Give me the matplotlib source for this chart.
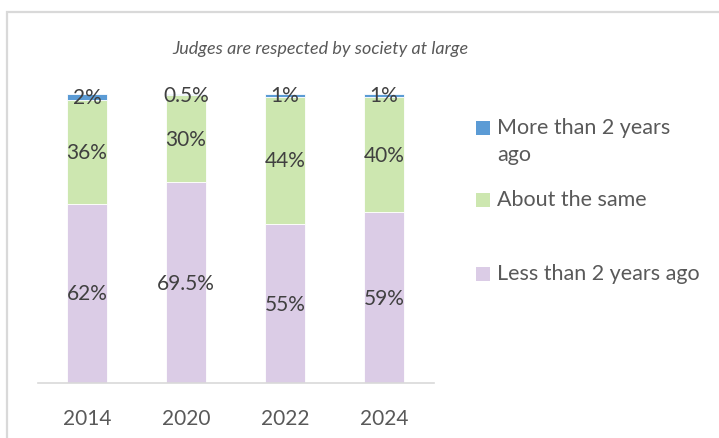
import matplotlib.pyplot as plt
import numpy as np
from matplotlib.patches import Rectangle

plt.rcParams["font.family"] = ["Lato", "DejaVu Sans"]

years = ["2014", "2020", "2022", "2024"]
less_than_2 = [62, 69.5, 55, 59]
about_same = [36, 30, 44, 40]
more_than_2 = [2, 0.5, 1, 1]

series_names = ["Less than 2 years ago", "About the same", "More than 2 years\nago"]
series_colors = ["#DBCCE6", "#CDE7B0", "#5B9BD5"]

W, H = 719, 439
fig = plt.figure(figsize=(W / 100, H / 100), dpi=100)

# outer chart frame (runs off the right and bottom edges)
fig.add_artist(Rectangle((7 / W, -0.1), 1.2, (H - 13) / H + 0.1,
                         transform=fig.transFigure, fill=False,
                         edgecolor="#D9D9D9", linewidth=1.6))

ax = fig.add_axes([37.5 / W, (H - 384) / H, 396 / W, 289 / H])
x = np.arange(len(years))
width = 0.404

bottom = np.zeros(len(years))
for vals, color in zip([less_than_2, about_same, more_than_2], series_colors):
    vals = np.array(vals, dtype=float)
    ax.bar(x, vals, width, bottom=bottom, color=color, edgecolor="white", linewidth=0.6)
    for xi, b, v in zip(x, bottom, vals):
        txt = f"{v:g}%"
        ax.text(xi, b + v / 2, txt, ha="center", va="center",
                fontsize=15, color="#404040")
    bottom += vals

ax.set_xlim(-0.5, 3.5)
ax.set_ylim(0, 100)
ax.set_yticks([])
for side in ["left", "right", "top"]:
    ax.spines[side].set_visible(False)
ax.spines["bottom"].set_color("#D9D9D9")
ax.spines["bottom"].set_linewidth(1.2)
ax.set_xticks(x)
ax.set_xticklabels(years, fontsize=15, color="#595959")
ax.tick_params(axis="x", length=0, pad=18)

fig.text(320 / W, 1 - 49 / H, "Judges are respected by society at large",
         ha="center", va="center", fontsize=13, style="italic", color="#595959")

# legend, top to bottom: More than 2 years ago, About the same, Less than 2 years ago
legend_rows = [129, 201, 275]
for yc, name, color in zip(legend_rows, series_names[::-1], series_colors[::-1]):
    fig.add_artist(Rectangle((476 / W, 1 - (yc + 7) / H), 14 / W, 14 / H,
                             transform=fig.transFigure, facecolor=color,
                             edgecolor="none"))
    fig.text(497 / W, 1 - (yc - 11) / H, name, ha="left", va="top",
             fontsize=15.5, color="#595959", linespacing=1.45)

fig.savefig("out.png", dpi=100)
